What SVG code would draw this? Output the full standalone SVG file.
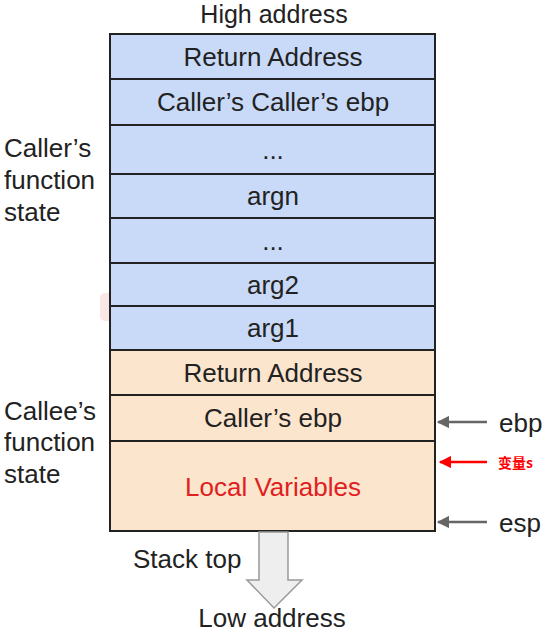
<svg xmlns="http://www.w3.org/2000/svg" width="552" height="632" viewBox="0 0 552 632">
<style>
text{font-family:"Liberation Sans",Arial,sans-serif;font-size:26px;fill:#222}
.c{text-anchor:middle}
.blue{fill:#c9daf8;stroke:#222;stroke-width:2}
.orange{fill:#fce5cd;stroke:#222;stroke-width:2}
.ptr{stroke:#666;stroke-width:2.5;fill:none}
.red{fill:#e02020}
</style>
<defs>
<marker id="ga" viewBox="0 0 10 10" refX="9" refY="5" markerWidth="5" markerHeight="5" orient="auto" markerUnits="strokeWidth"><path d="M0,0 L10,5 L0,10 z" fill="#666"/></marker>
<marker id="ra" viewBox="0 0 10 10" refX="9" refY="5" markerWidth="5" markerHeight="5" orient="auto" markerUnits="strokeWidth"><path d="M0,0 L10,5 L0,10 z" fill="#f00"/></marker>
</defs>
<rect x="100" y="293" width="30" height="28" rx="5" fill="#f4b6b6" opacity="0.35"/>
<text class="c" x="274" y="23" style="font-size:25px">High address</text>
<g id="n1"><rect class="blue" x="110" y="34" width="325" height="45"/><text class="c" x="273" y="66">Return Address</text></g>
<g id="n2"><rect class="blue" x="110" y="79" width="325" height="46"/><text class="c" x="273" y="111">Caller’s Caller’s ebp</text></g>
<g id="n3"><rect class="blue" x="110" y="125" width="325" height="49"/><text class="c" x="273" y="159">...</text></g>
<g id="n4"><rect class="blue" x="110" y="174" width="325" height="44"/><text class="c" x="273" y="205">argn</text></g>
<g id="n5"><rect class="blue" x="110" y="218" width="325" height="45"/><text class="c" x="273" y="250">...</text></g>
<g id="n6"><rect class="blue" x="110" y="263" width="325" height="43"/><text class="c" x="273" y="294">arg2</text></g>
<g id="n7"><rect class="blue" x="110" y="306" width="325" height="44"/><text class="c" x="273" y="337">arg1</text></g>
<g id="n8"><rect class="orange" x="110" y="350" width="325" height="45"/><text class="c" x="273" y="382">Return Address</text></g>
<g id="n9"><rect class="orange" x="110" y="395" width="325" height="46"/><text class="c" x="273" y="427">Caller’s ebp</text></g>
<g id="n10"><rect class="orange" x="110" y="441" width="325" height="90"/><text class="c red" x="273" y="496">Local Variables</text></g>
<g id="callerLabel"><text x="4" y="157">Caller’s</text><text x="4" y="189">function</text><text x="4" y="221">state</text></g>
<g id="calleeLabel"><text x="4" y="420">Callee’s</text><text x="4" y="451">function</text><text x="4" y="483">state</text></g>
<g id="connectors">
<line class="ptr" x1="487" y1="422" x2="438" y2="422" marker-end="url(#ga)"/>
<line x1="487" y1="462" x2="440" y2="462" stroke="#f00" stroke-width="2.5" marker-end="url(#ra)"/>
<line class="ptr" x1="487" y1="522" x2="438" y2="522" marker-end="url(#ga)"/>
<path d="M259,532 L288,532 L288,580 L302,580 L274,608 L247,580 L259,580 z" fill="#eeeeee" stroke="#999" stroke-width="1.5"/>
</g>
<text x="499" y="432">ebp</text>
<text x="498" y="468" style="font-family:'Noto Sans CJK SC','Liberation Serif',serif;font-size:14px;font-weight:bold;fill:#f00">变量s</text>
<text x="499" y="532">esp</text>
<text x="133" y="568">Stack top</text>
<text class="c" x="272" y="627">Low address</text>
</svg>
